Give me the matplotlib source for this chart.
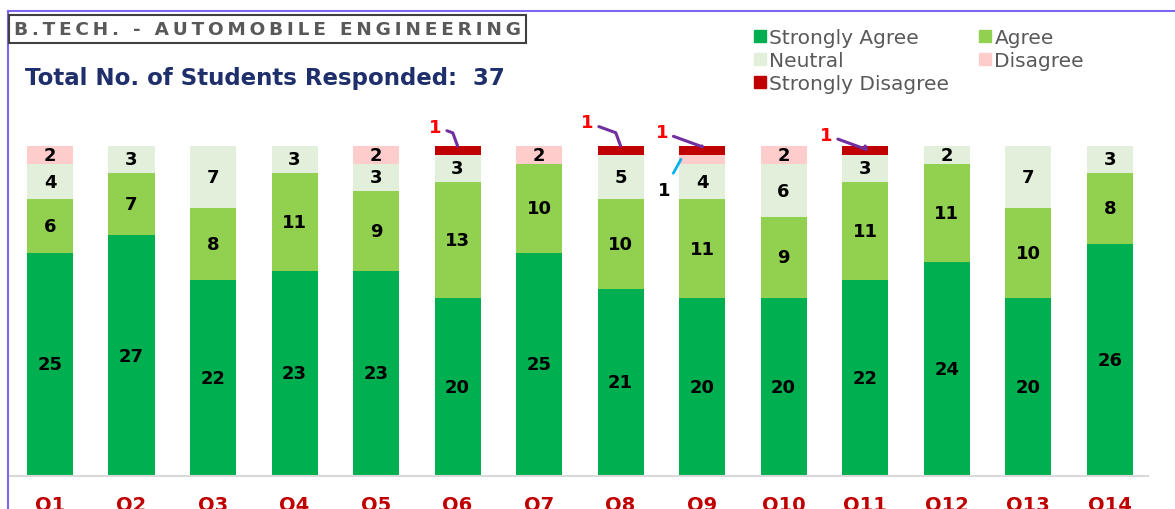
import matplotlib.pyplot as plt
from matplotlib.lines import Line2D
from matplotlib.patches import Patch
import numpy as np

questions = ['Q1', 'Q2', 'Q3', 'Q4', 'Q5', 'Q6', 'Q7', 'Q8', 'Q9', 'Q10', 'Q11', 'Q12', 'Q13', 'Q14']
strongly_agree = [25, 27, 22, 23, 23, 20, 25, 21, 20, 20, 22, 24, 20, 26]
agree = [6, 7, 8, 11, 9, 13, 10, 10, 11, 9, 11, 11, 10, 8]
neutral = [4, 3, 7, 3, 3, 3, 0, 5, 4, 6, 3, 2, 7, 3]
disagree = [2, 0, 0, 0, 2, 0, 2, 0, 1, 2, 0, 0, 0, 0]
strongly_disagree = [0, 0, 0, 0, 0, 1, 0, 1, 1, 0, 1, 0, 0, 0]
total = 37
programme = 'B.TECH. - AUTOMOBILE ENGINEERING'

series = [
    ('Strongly Agree', strongly_agree, '#00B050'),
    ('Agree', agree, '#92D050'),
    ('Neutral', neutral, '#E2EFDA'),
    ('Disagree', disagree, '#FFCCCC'),
    ('Strongly Disagree', strongly_disagree, '#C00000'),
]

# callout offsets (points) for labels drawn outside the bars
sd_offsets = {5: (-16, 14), 7: (-24, 17), 8: (-29, 10), 10: (-28, 8)}
d_offsets = {8: (-12, -22)}

fig = plt.figure(figsize=(11.75, 5.1), dpi=100)
ax = fig.add_axes([8/1175, 33/510, 1140/1175, 356.8/510])

x = np.arange(len(questions))
bottom = np.zeros(len(questions))
for name, vals, col in series:
    vals = np.array(vals)
    ax.bar(x, vals, width=0.565, bottom=bottom, color=col, label=name)
    for i, v in enumerate(vals):
        if v == 0:
            continue
        if name == 'Strongly Disagree':
            ax.annotate(str(v), xy=(i, bottom[i] + v), xytext=sd_offsets[i],
                        textcoords='offset points', ha='center', va='center',
                        fontsize=13, fontweight='bold', color='#FF0000',
                        arrowprops=dict(arrowstyle='-', color='#7030A0', lw=2.2,
                                        shrinkA=2, shrinkB=0,
                                        connectionstyle='angle,angleA=-20,angleB=110,rad=0'))
        elif i in d_offsets and name == 'Disagree':
            ax.annotate(str(v), xy=(i - 0.26, bottom[i] + v / 2), xytext=d_offsets[i],
                        textcoords='offset points', ha='center', va='center',
                        fontsize=13, fontweight='bold', color='black',
                        arrowprops=dict(arrowstyle='-', color='#00B0F0', lw=2,
                                        shrinkA=4, shrinkB=0))
        else:
            ax.text(i, bottom[i] + v / 2, str(v), ha='center', va='center',
                    fontsize=13, fontweight='bold', color='black')
    bottom += vals

ax.set_xlim(-0.515, 13.47)
ax.set_ylim(0, 40)
for s in ['top', 'right', 'left']:
    ax.spines[s].set_visible(False)
ax.spines['bottom'].set_color('#D9D9D9')
ax.spines['bottom'].set_linewidth(1.5)
ax.set_yticks([])
ax.set_xticks(x)
ax.set_xticklabels(questions, fontsize=14, fontweight='bold', color='#C00000')
ax.tick_params(axis='x', length=0, pad=13)

# legend, row-wise order
handles = {name: Patch(color=col) for name, _, col in series}
order = ['Strongly Agree', 'Neutral', 'Strongly Disagree', 'Agree', 'Disagree']
fig.legend([handles[n] for n in order], order, ncol=2, frameon=False,
           loc='upper left', bbox_to_anchor=(744/1175, 1 - 19/510),
           fontsize=14.5, labelcolor='#595959', handlelength=0.6, handleheight=0.6,
           handletextpad=0.15, columnspacing=1.5, labelspacing=0.2, borderpad=0)

# frame lines
fig.add_artist(Line2D([8/1175, 1], [1 - 12/510, 1 - 12/510], color='#7B68EE', lw=1.5))
fig.add_artist(Line2D([8/1175, 8/1175], [0, 1 - 12/510], color='#7B68EE', lw=1.5))

# letter-spaced heading
spaced = '\u2009'.join(programme)
fig.text(14/1175, 1 - 30/510, spaced, fontsize=13.3,
         fontweight='bold', color='#595959', va='center', ha='left',
         bbox=dict(boxstyle='square,pad=0.25', fc='white', ec='#404040', lw=1.5))
fig.text(25/1175, 1 - 79/510, 'Total No. of Students Responded:  %d' % total,
         fontsize=16.5, fontweight='bold', color='#1F2F6B', va='center', ha='left')

fig.savefig('out.png', dpi=100)
